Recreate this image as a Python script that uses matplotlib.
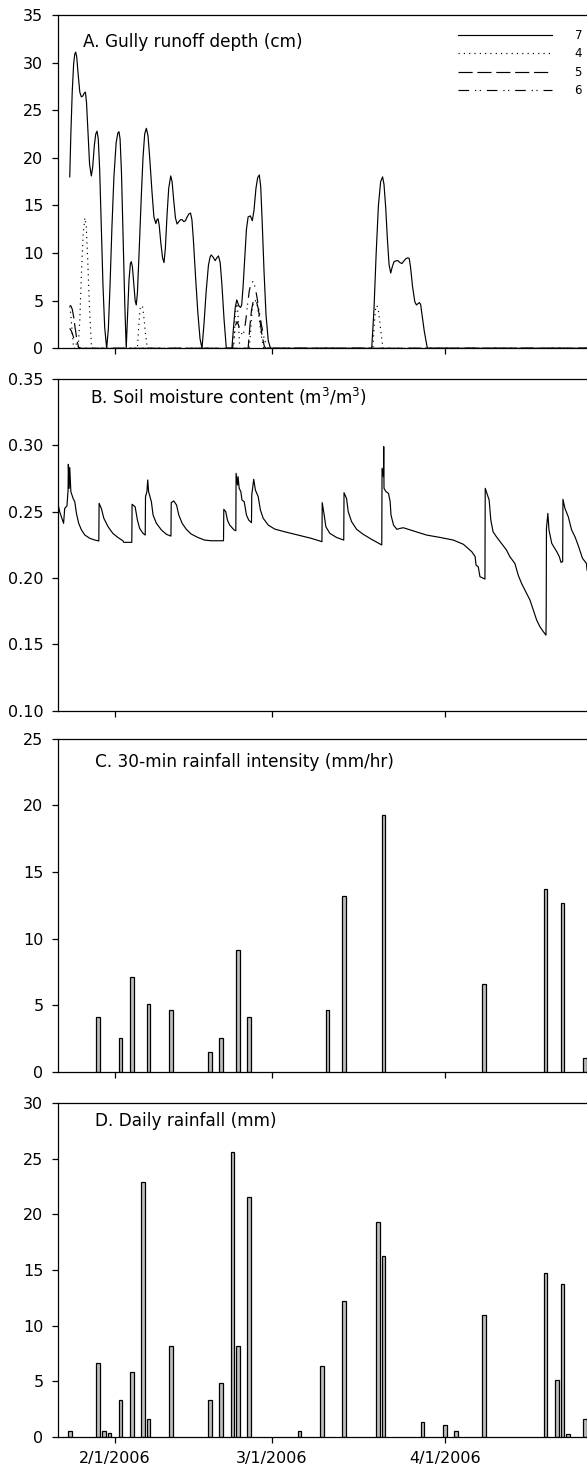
#!/usr/bin/env python3
"""Gully runoff, soil moisture and rainfall, Jan-Apr 2006 (four stacked panels)."""

from __future__ import annotations

import matplotlib

matplotlib.use("Agg")
import matplotlib.pyplot as plt

# x values are days since 1 Jan 2006 (31 = Feb 1, 59 = Mar 1, 90 = Apr 1)
DATE_TICKS = [31, 59, 90]
DATE_LABELS = ["2/1/2006", "3/1/2006", "4/1/2006"]
X_LIMITS = (20.8, 115.4)

# A. gully runoff depth (cm), one curve per gully
runoff_7_day = [22.9, 23.1, 23.35, 23.6, 23.8, 23.97, 24.15, 24.4, 24.7, 24.97, 25.25, 25.5, 25.7,
                25.9, 26.15, 26.45, 26.76, 27.0, 27.3, 27.55, 27.78, 28.0, 28.25, 28.55, 28.85,
                29.15, 29.5, 29.8, 30.1, 30.45, 30.8, 31.2, 31.5, 31.7, 31.9, 32.15, 32.45, 32.75,
                33.0, 33.25, 33.5, 33.75, 33.9, 34.1, 34.4, 34.6, 34.8, 35.0, 35.3, 35.7, 36.0,
                36.3, 36.6, 36.9, 37.2, 37.6, 37.95, 38.3, 38.5, 38.7, 38.9, 39.2, 39.5, 39.76,
                40.0, 40.3, 40.6, 40.96, 41.2, 41.5, 41.8, 42.1, 42.4, 42.7, 43.0, 43.3, 43.6,
                43.9, 44.2, 44.5, 44.75, 45.0, 45.4, 45.8, 46.2, 46.55, 46.9, 47.3, 47.7, 48.0,
                48.2, 48.5, 48.9, 49.2, 49.5, 49.8, 50.1, 50.5, 50.9, 51.9, 52.2, 52.5, 52.76,
                53.0, 53.2, 53.45, 53.65, 53.9, 54.2, 54.5, 54.8, 55.2, 55.55, 55.85, 56.2, 56.5,
                56.8, 57.05, 57.3, 57.65, 58.0, 58.4, 58.8, 76.9, 77.3, 77.7, 78.1, 78.5, 78.85,
                79.1, 79.4, 79.7, 80.0, 80.3, 80.6, 80.9, 81.3, 81.6, 81.95, 82.3, 82.7, 83.0,
                83.3, 83.6, 83.85, 84.2, 84.6, 84.9, 85.2, 85.45, 85.65, 85.9, 86.3, 86.85, 115.4]
runoff_7 = [18.0, 22.5, 27.0, 29.9, 30.9, 31.1, 30.6, 28.8, 26.9, 26.4, 26.5, 26.8, 26.9,
            25.8, 22.8, 19.3, 18.1, 19.0, 21.3, 22.5, 22.8, 22.0, 18.8, 12.5, 6.5,
            2.2, 0.0, 2.0, 6.5, 12.8, 18.0, 21.6, 22.6, 22.75, 22.0, 18.5, 11.5, 4.5,
            0.0, 3.5, 7.2, 8.9, 9.1, 8.6, 6.5, 5.0, 4.55, 5.8, 10.0, 16.0, 20.0,
            22.5, 23.1, 22.3, 20.0, 16.5, 13.8, 13.1, 13.5, 13.6, 12.9, 11.0, 9.5, 9.0,
            10.5, 14.0, 16.8, 18.1, 17.5, 15.5, 13.7, 13.05, 13.3, 13.5, 13.5, 13.3, 13.4,
            13.8, 14.1, 14.2, 13.5, 11.5, 7.5, 3.8, 1.0, 0.0, 2.5, 6.0, 8.7, 9.6,
            9.8, 9.6, 9.2, 9.5, 9.7, 9.0, 6.8, 3.0, 0.0, 0.0, 2.3, 4.3, 5.07,
            4.7, 4.4, 4.3, 4.55, 6.5, 9.5, 12.5, 13.8, 13.9, 13.4, 14.5, 16.8, 17.9,
            18.2, 17.0, 13.5, 8.0, 3.5, 0.8, 0.0, 0.0, 4.0, 10.0, 15.0, 17.5, 18.0,
            17.2, 14.8, 11.5, 8.8, 7.9, 8.6, 9.1, 9.2, 9.2, 9.0, 8.9, 9.2, 9.4,
            9.5, 9.45, 8.5, 6.5, 4.9, 4.55, 4.7, 4.8, 4.6, 3.5, 1.8, 0.0, 0.0]

runoff_4_day = [22.9, 23.1, 23.35, 23.6, 24.4, 24.7, 25.0, 25.3, 25.6, 25.85, 26.1, 26.45, 26.8,
                35.0, 35.25, 35.5, 35.7, 35.95, 36.2, 36.5, 36.8, 52.2, 52.5, 52.8, 53.05, 53.3,
                55.0, 55.3, 55.55, 55.8, 56.1, 56.35, 56.7, 57.1, 57.6, 77.1, 77.35, 77.6, 77.8,
                78.05, 78.4, 78.9, 115.4]
runoff_4 = [4.4, 3.5, 1.6, 0.0, 0.0, 3.0, 8.0, 12.0, 13.7, 12.8, 9.5, 4.0, 0.0,
            0.0, 2.5, 4.2, 4.5, 4.3, 3.0, 1.2, 0.0, 0.0, 3.5, 5.0, 3.0, 0.0,
            0.0, 2.2, 4.2, 4.9, 5.0, 4.8, 3.5, 1.5, 0.0, 0.0, 2.5, 4.2, 4.5,
            4.2, 2.5, 0.0, 0.0]

runoff_5_day = [22.9, 23.1, 23.35, 23.6, 23.9, 24.2, 24.5, 25.0, 54.8, 55.1, 55.4, 55.7, 56.0,
                56.3, 56.6, 56.9, 57.3, 57.7, 58.0, 115.4]
runoff_5 = [4.5, 4.45, 4.1, 3.3, 2.0, 0.8, 0.1, 0.0, 0.0, 2.2, 4.0, 4.9, 5.0,
            4.9, 4.2, 3.0, 1.3, 0.2, 0.0, 0.0]

runoff_6_day = [22.9, 23.2, 23.5, 23.8, 24.1, 24.4, 24.8, 52.0, 52.3, 52.55, 52.8, 53.05, 53.3,
                53.6, 53.85, 54.1, 54.4, 54.7, 55.0, 55.3, 55.6, 55.85, 56.1, 56.4, 56.8, 57.2,
                57.6, 58.0, 58.3, 115.4]
runoff_6 = [2.1, 1.8, 1.3, 0.8, 0.4, 0.1, 0.0, 0.0, 1.2, 2.4, 2.8, 2.5, 2.0,
            1.6, 1.4, 1.8, 3.0, 4.6, 6.0, 6.8, 7.0, 6.8, 6.3, 5.3, 3.8, 2.4,
            1.2, 0.4, 0.0, 0.0]

# B. soil moisture content (m3/m3)
moisture_day = [20.8, 21.1, 21.8, 22.0, 22.4, 22.6, 22.65, 22.8, 22.9, 23.1, 23.5, 23.8, 24.1, 24.5,
                25.0, 25.6, 26.5, 27.4, 28.1, 28.15, 28.55, 29.0, 29.75, 30.6, 31.5, 32.4, 32.55,
                34.0, 34.05, 34.6, 35.0, 35.4, 36.0, 36.4, 36.45, 36.7, 36.85, 37.0, 37.5, 37.8,
                38.4, 39.3, 40.2, 41.0, 41.05, 41.5, 42.0, 42.4, 43.0, 43.75, 44.6, 45.8, 47.0,
                48.2, 49.4, 50.4, 50.45, 50.8, 51.1, 51.5, 52.3, 52.6, 52.65, 52.9, 53.0, 53.2,
                53.5, 53.7, 54.1, 54.5, 54.9, 55.4, 55.45, 55.8, 56.1, 56.6, 57.0, 57.5, 58.4,
                59.55, 61.3, 63.7, 66.1, 68.0, 68.05, 68.4, 68.7, 69.4, 70.6, 71.9, 71.95, 72.4,
                72.7, 73.3, 74.2, 75.4, 76.9, 78.7, 78.75, 79.0, 79.05, 79.1, 79.45, 79.9, 80.2,
                80.35, 80.8, 81.4, 81.96, 82.55, 84.3, 86.7, 89.1, 91.5, 93.3, 94.8, 95.4, 95.55,
                95.95, 96.26, 97.15, 97.2, 97.6, 97.9, 98.2, 98.6, 99.2, 100.1, 101.0, 101.6,
                102.5, 103.1, 103.7, 104.6, 105.2, 105.8, 106.4, 106.98, 107.6, 108.06, 108.1,
                108.15, 108.4, 108.6, 109.1, 110.0, 110.45, 110.75, 111.05, 111.1, 111.45, 112.05,
                112.65, 113.25, 113.8, 114.6, 115.3, 115.4]
moisture = [0.2558, 0.2500, 0.2412, 0.2525, 0.2543, 0.2663, 0.2857, 0.2676, 0.2834, 0.2651, 0.2600,
            0.2575, 0.2487, 0.2412, 0.2362, 0.2324, 0.2299, 0.2286, 0.2279, 0.2563, 0.2525, 0.2450,
            0.2387, 0.2337, 0.2306, 0.2281, 0.2269, 0.2269, 0.2556, 0.2536, 0.2437, 0.2374, 0.2337,
            0.2324, 0.2613, 0.2651, 0.2739, 0.2651, 0.2575, 0.2475, 0.2412, 0.2362, 0.2329, 0.2316,
            0.2568, 0.2581, 0.2550, 0.2475, 0.2412, 0.2367, 0.2332, 0.2306, 0.2286, 0.2281, 0.2281,
            0.2281, 0.2518, 0.2500, 0.2437, 0.2399, 0.2362, 0.2356, 0.2789, 0.2701, 0.2764, 0.2676,
            0.2651, 0.2588, 0.2575, 0.2475, 0.2437, 0.2417, 0.2626, 0.2744, 0.2663, 0.2613, 0.2512,
            0.2450, 0.2399, 0.2369, 0.2349, 0.2324, 0.2299, 0.2274, 0.2568, 0.2475, 0.2387, 0.2337,
            0.2306, 0.2286, 0.2643, 0.2600, 0.2500, 0.2425, 0.2367, 0.2329, 0.2291, 0.2249, 0.2827,
            0.2764, 0.2990, 0.2676, 0.2651, 0.2638, 0.2575, 0.2475, 0.2399, 0.2367, 0.2374, 0.2379,
            0.2356, 0.2324, 0.2306, 0.2286, 0.2254, 0.2198, 0.2161, 0.2098, 0.2085, 0.2010, 0.1992,
            0.2676, 0.2626, 0.2588, 0.2437, 0.2349, 0.2311, 0.2261, 0.2211, 0.2161, 0.2110, 0.2022,
            0.1959, 0.1884, 0.1834, 0.1758, 0.1683, 0.1633, 0.1595, 0.1570, 0.1696, 0.2374, 0.2487,
            0.2362, 0.2261, 0.2198, 0.2161, 0.2118, 0.2123, 0.2593, 0.2525, 0.2462, 0.2362, 0.2311,
            0.2249, 0.2148, 0.2110, 0.2060]

# C. 30-min rainfall intensity (mm/hr)
intensity_day = [28, 32, 34, 37, 41, 48, 50, 53, 55, 69, 72, 79, 97, 108, 111, 115]
intensity = [4.1, 2.5, 7.1, 5.1, 4.6, 1.5, 2.5, 9.15, 4.1, 4.6, 13.2, 19.3, 6.6, 13.7, 12.7, 1.0]

# D. daily rainfall (mm)
daily_day = [23, 28, 29, 30, 32, 34, 36, 37, 41, 48, 50, 52, 53, 55, 64, 68, 72, 78, 79, 86, 90,
             92, 97, 108, 110, 111, 112, 115]
daily_rain = [0.55, 6.6, 0.5, 0.3, 3.3, 5.85, 22.9, 1.55, 8.15, 3.3, 4.85, 25.6, 8.15, 21.6, 0.55,
              6.35, 12.2, 19.3, 16.25, 1.3, 1.05, 0.55, 10.95, 14.75, 5.1, 13.7, 0.27, 1.55]

LEGEND_LABELS = ["7", "4", "5", "6"]
PANEL_TITLES = ["A. Gully runoff depth (cm)",
                "B. Soil moisture content (m$^3$/m$^3$)",
                "C. 30-min rainfall intensity (mm/hr)",
                "D. Daily rainfall (mm)"]

TICK_SIZE = 11.5
TITLE_SIZE = 12.2
BAR_WIDTH = 0.65
BAR_FILL = "#bdbdbd"


def style_axis(ax, ylim, yticks, title, title_xy, fmt=None, show_dates=False):
    ax.set_xlim(*X_LIMITS)
    ax.set_ylim(*ylim)
    ax.set_yticks(yticks)
    if fmt:
        ax.set_yticklabels([fmt.format(v) for v in yticks])
    ax.set_xticks(DATE_TICKS)
    ax.set_xticklabels(DATE_LABELS if show_dates else [])
    ax.spines["right"].set_visible(False)
    for side in ("left", "bottom", "top"):
        ax.spines[side].set_linewidth(0.9)
    ax.tick_params(direction="out", length=4, width=0.9, labelsize=TICK_SIZE, pad=6.5)
    ax.text(title_xy[0], title_xy[1], title, transform=ax.transAxes, fontsize=TITLE_SIZE,
            ha="left", va="center")


def main() -> int:
    fig = plt.figure(figsize=(5.87, 14.69), dpi=100)
    left, width = 0.0988, 0.9012
    ax_a = fig.add_axes([left, 0.7629, width, 0.2269])
    ax_b = fig.add_axes([left, 0.5162, width, 0.2258])
    ax_c = fig.add_axes([left, 0.2705, width, 0.2265])
    ax_d = fig.add_axes([left, 0.0220, width, 0.2270])

    lw = 0.85
    ax_a.plot(runoff_7_day, runoff_7, color="black", lw=lw, label=LEGEND_LABELS[0])
    ax_a.plot(runoff_4_day, runoff_4, color="black", lw=lw, ls=(0, (1, 3.5)), label=LEGEND_LABELS[1])
    ax_a.plot(runoff_5_day, runoff_5, color="black", lw=lw, ls=(0, (12, 4)), label=LEGEND_LABELS[2])
    ax_a.plot(runoff_6_day, runoff_6, color="black", lw=lw, ls=(0, (9, 5, 1, 3, 1, 5)),
              label=LEGEND_LABELS[3])
    ax_a.legend(loc="upper right", bbox_to_anchor=(1.004, 0.979), frameon=False, fontsize=8.5,
                handlelength=8.0, handletextpad=1.9, labelspacing=0.46, borderaxespad=0.3,
                borderpad=0.3)
    style_axis(ax_a, (0, 35), list(range(0, 36, 5)), PANEL_TITLES[0], (0.048, 0.92))

    ax_b.plot(moisture_day, moisture, color="black", lw=lw)
    style_axis(ax_b, (0.10, 0.35), [0.10, 0.15, 0.20, 0.25, 0.30, 0.35], PANEL_TITLES[1],
               (0.0605, 0.945), fmt="{:.2f}")

    ax_c.bar(intensity_day, intensity, width=BAR_WIDTH, color=BAR_FILL, edgecolor="black", linewidth=0.9)
    style_axis(ax_c, (0, 25), list(range(0, 26, 5)), PANEL_TITLES[2], (0.07, 0.932))

    ax_d.bar(daily_day, daily_rain, width=BAR_WIDTH, color=BAR_FILL, edgecolor="black", linewidth=0.9)
    style_axis(ax_d, (0, 30), list(range(0, 31, 5)), PANEL_TITLES[3], (0.07, 0.947), show_dates=True)

    fig.savefig("out.png", dpi=100)
    plt.close(fig)
    return 0


if __name__ == "__main__":
    raise SystemExit(main())
